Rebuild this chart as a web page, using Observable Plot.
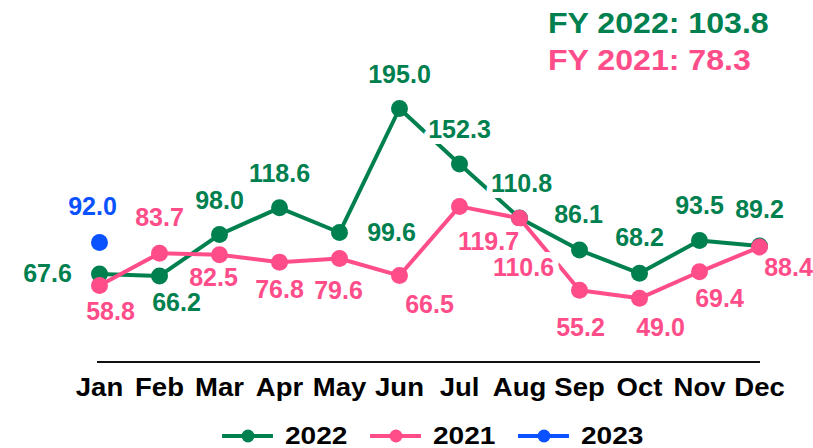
<!DOCTYPE html>
<html>
<head>
<meta charset="utf-8">
<script src="https://cdn.jsdelivr.net/npm/d3@7"></script>
<script src="https://cdn.jsdelivr.net/npm/@observablehq/plot@0.6"></script>
<style>
  html, body { margin: 0; padding: 0; background: #fff; overflow: hidden; }
  body { font-family: "Liberation Sans", Arial, sans-serif; }
  #wrap { position: relative; width: 813px; height: 448px; }
  .fy { position: absolute; left: 548px; font-weight: bold; font-size: 30px; line-height: 1; white-space: nowrap; transform: scaleX(1.07); transform-origin: left center; }
  #legend { position: absolute; left: 222px; top: 424px; height: 24px; display: flex; align-items: center; }
  .item { display: flex; align-items: center; margin-right: 23px; }
  .item svg { display: block; }
  .item span { display: inline-block; width: 62px; margin-left: 12px; font-weight: bold; font-size: 24px; line-height: 24px; color: #000; transform: scaleX(1.17); transform-origin: left center; }
  svg g[aria-label="x-axis tick label"] text { font-weight: bold; }
</style>
</head>
<body>
<div id="wrap">
  <div id="chart"></div>
  <div class="fy" id="fy1" style="top:8px;"></div>
  <div class="fy" id="fy2" style="top:45px;"></div>
  <div id="legend"></div>
</div>
<script>
// ---- data ----
const months = ["Jan","Feb","Mar","Apr","May","Jun","Jul","Aug","Sep","Oct","Nov","Dec"];
const values2022 = [67.6, 66.2, 98.0, 118.6, 99.6, 195.0, 152.3, 110.8, 86.1, 68.2, 93.5, 89.2];
const values2021 = [58.8, 83.7, 82.5, 76.8, 79.6, 66.5, 119.7, 110.6, 55.2, 49.0, 69.4, 88.4];
const months2023 = ["Jan"];
const values2023 = [92.0];
const seriesNames = ["2022", "2021", "2023"];
const fyLabels = ["FY 2022: 103.8", "FY 2021: 78.3"];

// ---- styling / label placement (not data) ----
const colors = {"2022": "#00804f", "2021": "#ff4d8a", "2023": "#0a52ff"};
const nudge2022 = [[-52,0],[17,27],[0,-34],[0,-34],[52,0],[0,-34],[0,-34],[2,-34],[-1,-35],[0,-35],[0,-34],[0,-36]];
const nudge2021 = [[11,26],[0,-35],[-6,23],[0,28],[-1,32],[30,29],[29,36],[4,50],[1,38],[21,30],[20,27],[29,21]];
const nudge2023 = [[-7,-35]];

const rows2022 = months.map((m, i) => ({month: m, value: values2022[i], series: "2022", nudge: nudge2022[i]}));
const rows2021 = months.map((m, i) => ({month: m, value: values2021[i], series: "2021", nudge: nudge2021[i]}));
const rows2023 = months2023.map((m, i) => ({month: m, value: values2023[i], series: "2023", nudge: nudge2023[i]}));

const seriesMarks = (rows) => [
  Plot.line(rows, {x: "month", y: "value", stroke: colors[rows[0].series], strokeWidth: 4}),
  Plot.dot(rows, {x: "month", y: "value", fill: colors[rows[0].series], r: 8.5})
];

const labelMarks = [...rows2022, ...rows2021, ...rows2023].map(d =>
  Plot.text([d], {
    x: "month", y: "value", text: r => r.value.toFixed(1),
    dx: d.nudge[0], dy: d.nudge[1],
    fill: colors[d.series], stroke: "white", strokeWidth: 12, strokeLinejoin: "round",
    fontSize: 25, fontWeight: "bold", textAnchor: "middle", lineAnchor: "middle",
    ariaLabel: "value label"
  })
);

const chart = Plot.plot({
  width: 813,
  height: 412,
  marginLeft: 97,
  marginRight: 53,
  marginTop: 101.5,
  marginBottom: 50.5,
  style: {fontFamily: '"Liberation Sans", Arial, sans-serif', background: "white", color: "black", overflow: "visible"},
  x: {type: "point", domain: months, padding: 0, label: null},
  y: {domain: [0, 200], axis: null},
  marks: [
    Plot.ruleY([0], {stroke: "#111", strokeWidth: 2}),
    Plot.axisX({tickSize: 0, tickPadding: 16.5, fontSize: 25, fontWeight: "bold", label: null}),
    ...seriesMarks(rows2022),
    ...seriesMarks(rows2021),
    ...seriesMarks(rows2023),
    ...labelMarks
  ]
});
document.getElementById("chart").appendChild(chart);

// widen glyphs slightly around each text's own anchor to match the reference lettering
chart.querySelectorAll('g[aria-label="value label"] text').forEach(t => {
  t.setAttribute("transform", (t.getAttribute("transform") || "") + " scale(1.08,1)");
});
chart.querySelectorAll('g[aria-label="x-axis tick label"] text').forEach(t => {
  t.setAttribute("transform", (t.getAttribute("transform") || "") + " scale(1.1,1)");
});

// titles
const fy1 = document.getElementById("fy1");
fy1.textContent = fyLabels[0]; fy1.style.color = colors["2022"];
const fy2 = document.getElementById("fy2");
fy2.textContent = fyLabels[1]; fy2.style.color = colors["2021"];

// legend
const legend = document.getElementById("legend");
seriesNames.forEach(s => {
  const item = document.createElement("div");
  item.className = "item";
  item.innerHTML = `<svg width="51" height="24"><line x1="1" y1="12" x2="50" y2="12" stroke="${colors[s]}" stroke-width="4" stroke-linecap="round"/><circle cx="26" cy="12" r="6.5" fill="${colors[s]}"/></svg><span>${s}</span>`;
  legend.appendChild(item);
});
</script>
</body>
</html>
